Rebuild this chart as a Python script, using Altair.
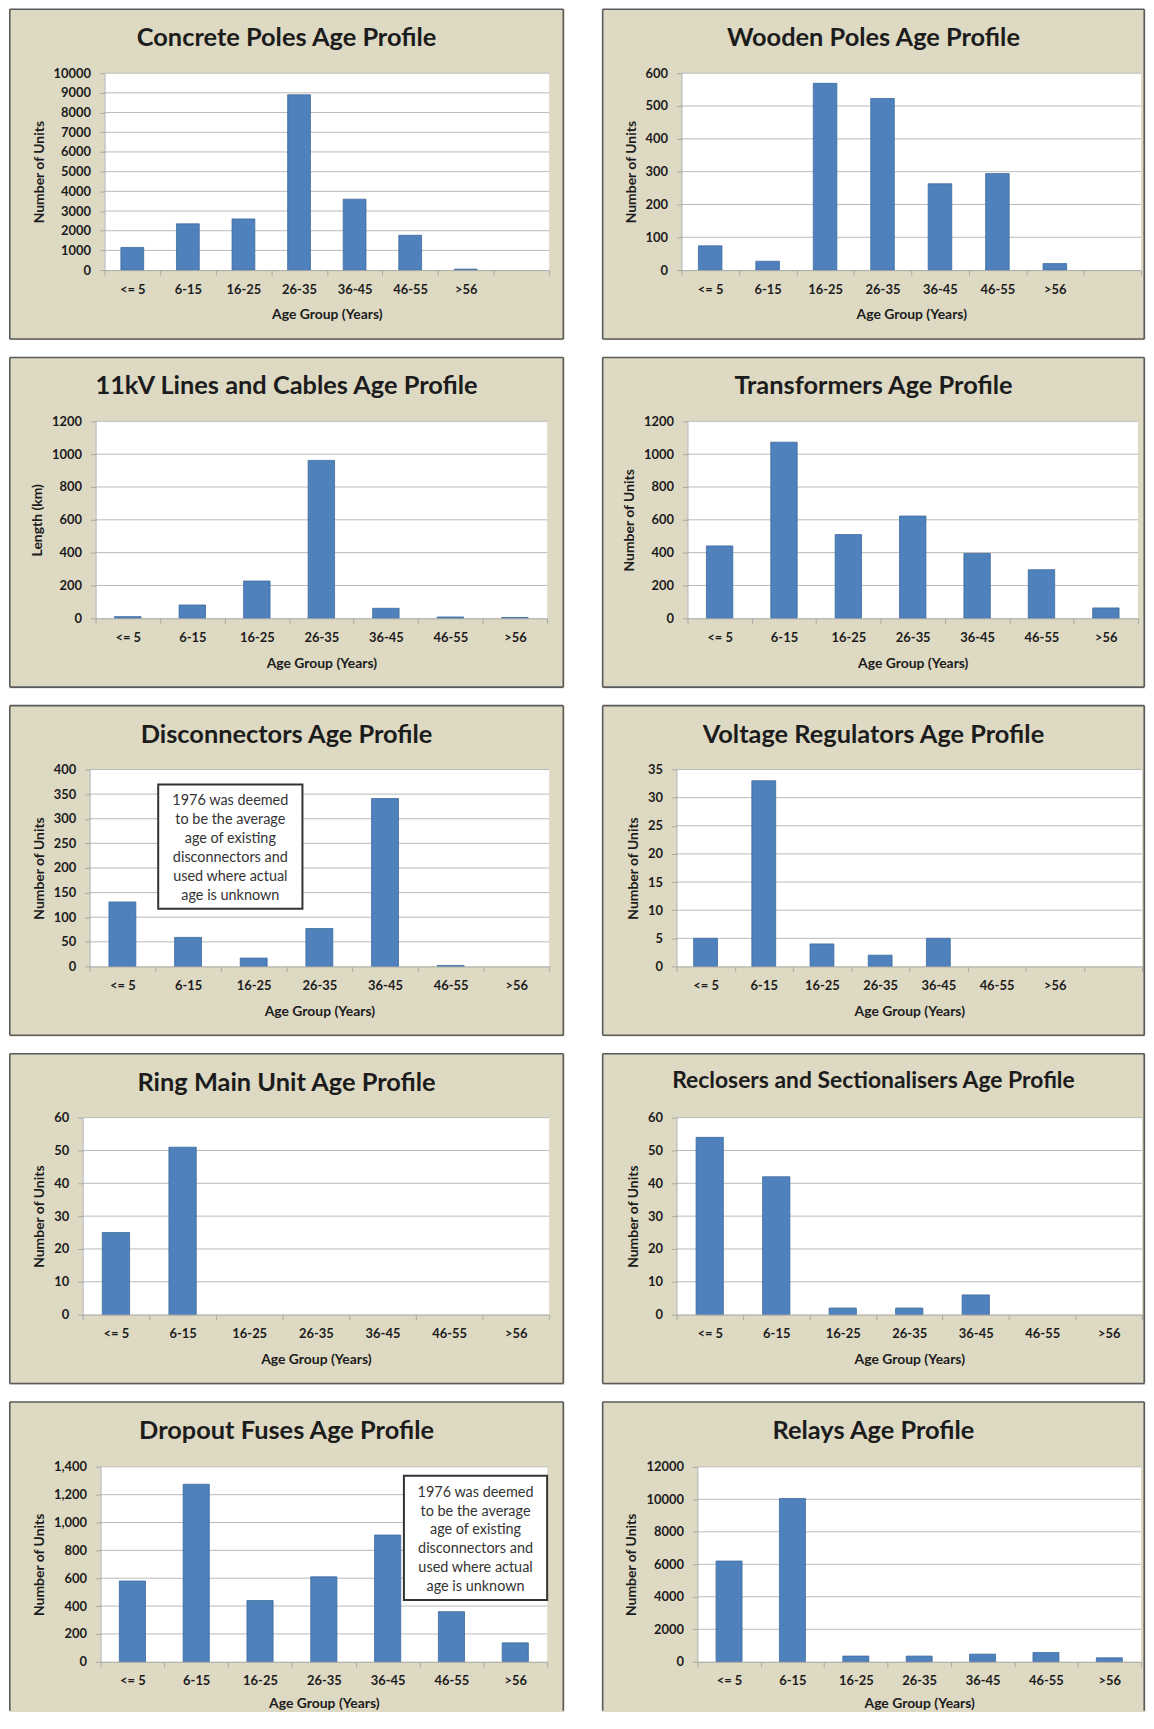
import altair as alt
import pandas as pd

# ---------------- data ----------------
AGE_GROUPS = ["<= 5", "6-15", "16-25", "26-35", "36-45", "46-55", ">56"]
X_TITLE = "Age Group (Years)"

concrete_poles = [1150, 2350, 2600, 8900, 3600, 1770, 50]
wooden_poles = [74, 27, 569, 523, 263, 294, 20]
lines_cables_km = [10, 81, 227, 962, 61, 8, 5]
transformers = [441, 1073, 510, 623, 395, 296, 63]
disconnectors = [131, 59, 17, 77, 341, 2, 0]
voltage_regulators = [5, 33, 4, 2, 5, 0, 0]
ring_main_units = [25, 51, 0, 0, 0, 0, 0]
reclosers_sectionalisers = [54, 42, 2, 2, 6, 0, 0]
dropout_fuses = [580, 1275, 440, 610, 910, 360, 136]
relays = [6200, 10050, 350, 350, 470, 570, 245]

NOTE_LINES = ["1976 was deemed", "to be the average", "age of existing",
              "disconnectors and", "used where actual", "age is unknown"]

# (title, values, y title, y max, y step, y format, extra empty slot, note)
PANELS = [
    ("Concrete Poles Age Profile", concrete_poles, "Number of Units", 10000, 1000, "d", True, None),
    ("Wooden Poles Age Profile", wooden_poles, "Number of Units", 600, 100, "d", True, None),
    ("11kV Lines and Cables Age Profile", lines_cables_km, "Length (km)", 1200, 200, "d", False, None),
    ("Transformers Age Profile", transformers, "Number of Units", 1200, 200, "d", False, None),
    ("Disconnectors Age Profile", disconnectors, "Number of Units", 400, 50, "d", False, NOTE_LINES),
    ("Voltage Regulators Age Profile", voltage_regulators, "Number of Units", 35, 5, "d", True, None),
    ("Ring Main Unit Age Profile", ring_main_units, "Number of Units", 60, 10, "d", False, None),
    ("Reclosers and Sectionalisers Age Profile", reclosers_sectionalisers, "Number of Units", 60, 10, "d", False, None),
    ("Dropout Fuses Age Profile", dropout_fuses, "Number of Units", 1400, 200, ",d", False, NOTE_LINES),
    ("Relays Age Profile", relays, "Number of Units", 12000, 2000, "d", False, None),
]

# ---------------- layout / style ----------------
LEFT_W, RIGHT_W = 558, 546
ROW_GEOM = dict(PH=333, T=65, H=198, lab=8, tpad=12, bottom=True)
LAST_GEOM = dict(PH=312, T=66, H=196, lab=7.5, tpad=9.5, bottom=False)
LAYOUT = [
    dict(L=96, W=447, ts=25.5, ty=30),
    dict(L=80, W=462, ts=25.5, ty=30),
    dict(L=87, W=454, ts=25.5, ty=30),
    dict(L=86, W=453, ts=25.5, ty=30),
    dict(L=81, W=462, ts=25.5, ty=30, box=(69, 15, 214, 140)),
    dict(L=75, W=468, ts=25.5, ty=30),
    dict(L=74, W=469, ts=25.5, ty=30),
    dict(L=75, W=468, ts=23, ty=28),
    dict(L=92, W=449, ts=25.5, ty=30, box=(305, 9, 449, 134)),
    dict(L=96, W=446, ts=25.5, ty=30),
]
FONT = "Lato"
BEIGE = "#ddd9c3"
BORDER = "#5a5a5a"
GRID = "#b9b9b9"
AXIS_GRAY = "#a8a8a8"
BLUE = "#4f81bd"
BAR_EDGE = "#3d6a9e"
TEXT = "#1c1c1c"


def make_panel(idx, spec, lay):
    title, values, ytitle, ymax, ystep, yfmt, extra, note = spec
    geom = LAST_GEOM if idx >= 8 else ROW_GEOM
    PH, T, H = geom["PH"], geom["T"], geom["H"]
    PW = LEFT_W if idx % 2 == 0 else RIGHT_W
    L, W = lay["L"], lay["W"]
    df = pd.DataFrame({"age": AGE_GROUPS, "n": values})
    domain = AGE_GROUPS + ([""] if extra else [])
    tick_vals = list(range(0, ymax + 1, ystep))
    xs = alt.Scale(domain=domain, range=[L, L + W], paddingInner=0, paddingOuter=0)
    ys = alt.Scale(domain=[0, ymax], range=[T + H, T], nice=False, zero=True)
    one = alt.Data(values=[{"k": 1}])

    y_axis = alt.Axis(
        title=ytitle, values=tick_vals, format=yfmt, grid=False, zindex=1, offset=-L,
        domainColor=AXIS_GRAY, tickColor=AXIS_GRAY, tickSize=5, labelPadding=9,
        labelFont=FONT, labelFontSize=13, labelFontWeight="bold", labelColor=TEXT,
        titleFont=FONT, titleFontSize=14, titleFontWeight="bold", titleColor=TEXT,
        titlePadding=7)
    x_axis = alt.Axis(
        title=X_TITLE, labelAngle=0, ticks=True, tickSize=5, tickBand="extent",
        tickColor=AXIS_GRAY, labelExpr="datum.label",
        domainColor=AXIS_GRAY, zindex=1, offset=-(PH - T - H), labelPadding=geom["lab"],
        labelFont=FONT, labelFontSize=13, labelFontWeight="bold", labelColor=TEXT,
        titleFont=FONT, titleFontSize=14, titleFontWeight="bold", titleColor=TEXT,
        titlePadding=geom["tpad"])

    e = 0.8  # border inset
    borders = [(e, PW - e, e, e), (e, e, e, PH - e), (PW - e, PW - e, e, PH - e)]
    if geom["bottom"]:
        borders.append((e, PW - e, PH - e, PH - e))

    layers = []
    for (x0, x1, y0, y1) in borders:
        layers.append(alt.Chart(one).mark_rule(color=BORDER, strokeWidth=1.6).encode(
            x=alt.value(x0), x2=alt.value(x1), y=alt.value(y0), y2=alt.value(y1)))
    layers += [
        alt.Chart(one).mark_rect(fill="white").encode(
            x=alt.value(L), x2=alt.value(L + W), y=alt.value(T), y2=alt.value(T + H)),
        alt.Chart(pd.DataFrame({"g": tick_vals[1:]})).mark_rule(color=GRID, strokeWidth=1).encode(
            y=alt.Y("g:Q", scale=ys, axis=y_axis), x=alt.value(L), x2=alt.value(L + W)),
        alt.Chart(df).transform_filter("datum.n > 0").mark_bar(
            color=BLUE, stroke=BAR_EDGE, strokeWidth=0.8, width=alt.RelativeBandSize(0.41)).encode(
            x=alt.X("age:N", scale=xs, axis=x_axis),
            y=alt.Y("n:Q", scale=ys, axis=y_axis)),
    ]
    if note:
        bx0, by0, bx1, by1 = lay["box"]
        layers.append(alt.Chart(one).mark_rect(fill="white", stroke="#333333", strokeWidth=2).encode(
            x=alt.value(L + bx0), x2=alt.value(L + bx1), y=alt.value(T + by0), y2=alt.value(T + by1)))
        layers.append(alt.Chart(one).mark_text(
            font=FONT, fontSize=14.5, lineHeight=19, align="center", baseline="middle",
            color="#333333").encode(
            x=alt.value(L + (bx0 + bx1) / 2), y=alt.value(T + by0 + 17), text=alt.value(note)))
    layers.append(alt.Chart(one).mark_text(
        font=FONT, fontSize=lay["ts"], fontWeight="bold", align="center", baseline="middle",
        color=TEXT).encode(
        x=alt.value(PW / 2), y=alt.value(lay["ty"]), text=alt.value(title)))
    return alt.layer(*layers).properties(width=PW, height=PH)


panels = [make_panel(i, s, l) for i, (s, l) in enumerate(zip(PANELS, LAYOUT))]
rows = [alt.hconcat(panels[i], panels[i + 1], spacing=36) for i in range(0, len(panels), 2)]
chart = alt.vconcat(*rows, spacing=15).properties(
    padding={"top": -5, "left": 0, "right": 0, "bottom": 0}, background="white"
).configure_view(fill=BEIGE, stroke="transparent")

chart.save("out.html", embed_options={"renderer": "svg", "actions": False})
